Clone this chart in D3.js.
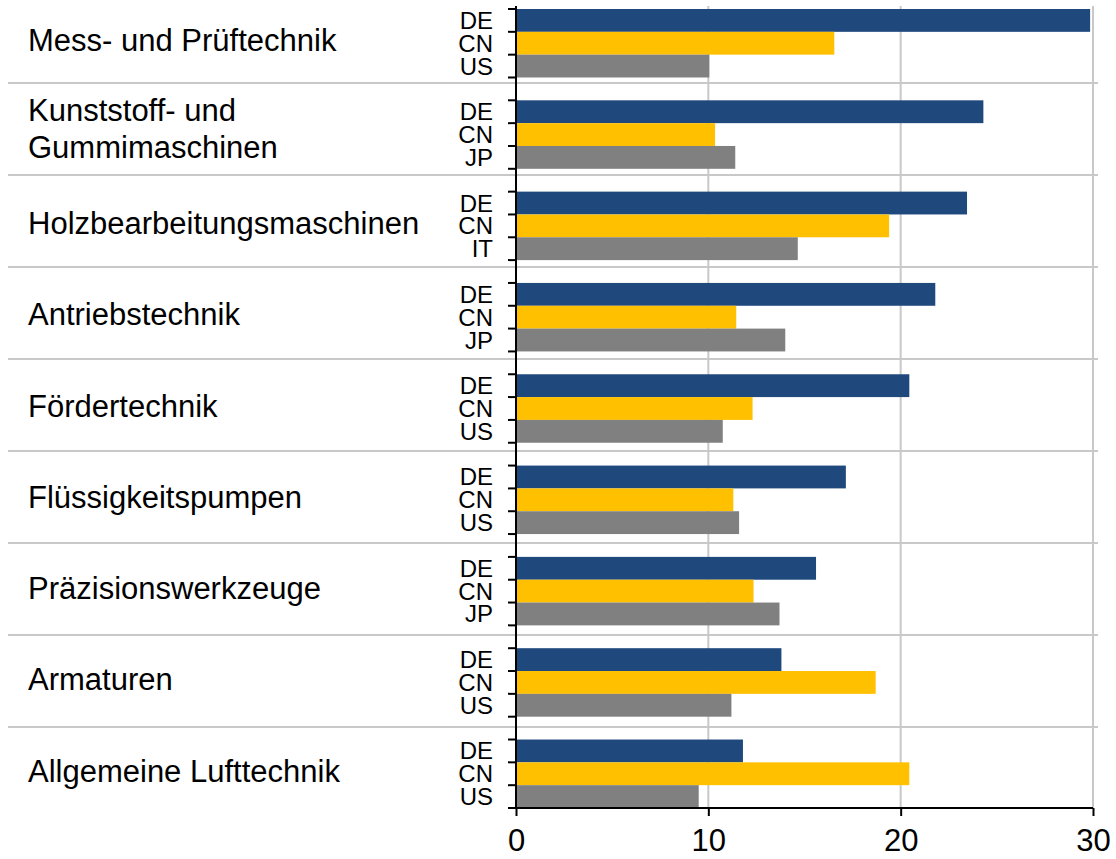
<!DOCTYPE html>
<html>
<head>
<meta charset="utf-8">
<script src="https://cdn.jsdelivr.net/npm/d3@7/dist/d3.min.js"></script>
<style>
  html, body { margin: 0; padding: 0; background: #fff; }
  svg { display: block; font-family: "Liberation Sans", Arial, sans-serif; }
</style>
</head>
<body>
<svg id="chart" width="1116" height="859"></svg>
<script>
// ---- data ----
const groupLabels = [
  ["Mess- und Prüftechnik"],
  ["Kunststoff- und", "Gummimaschinen"],
  ["Holzbearbeitungsmaschinen"],
  ["Antriebstechnik"],
  ["Fördertechnik"],
  ["Flüssigkeitspumpen"],
  ["Präzisionswerkzeuge"],
  ["Armaturen"],
  ["Allgemeine Lufttechnik"]
];
const thirdCountry = ["US", "JP", "IT", "JP", "US", "US", "JP", "US", "US"];
const deValues    = [29.85, 24.3, 23.45, 21.8, 20.45, 17.15, 15.6, 13.8, 11.8];
const cnValues    = [16.55, 10.35, 19.4, 11.45, 12.3, 11.3, 12.35, 18.7, 20.45];
const thirdValues = [10.05, 11.4, 14.65, 14.0, 10.75, 11.6, 13.7, 11.2, 9.5];
const xTicks = [0, 10, 20, 30];

const colors = { DE: "#1F497D", CN: "#FFC000", third: "#808080" };

// ---- build rows ----
const rows = [];
groupLabels.forEach((g, i) => {
  rows.push({ group: i, idx: 0, label: "DE", value: deValues[i], color: colors.DE });
  rows.push({ group: i, idx: 1, label: "CN", value: cnValues[i], color: colors.CN });
  rows.push({ group: i, idx: 2, label: thirdCountry[i], value: thirdValues[i], color: colors.third });
});
const slotOf = r => r.group * 4 + r.idx;
const nSlots = groupLabels.length * 4 - 1;

const svg = d3.select("#chart");
const x = d3.scaleLinear().domain([0, 30]).range([516, 1093]);
const y = d3.scaleBand().domain(d3.range(nSlots)).range([9, 808]).paddingInner(0).paddingOuter(0);
const plotTop = 6, plotBottom = 808;
const grid = "#C8C8C8";

// vertical gridlines
svg.append("g").selectAll("line")
  .data(xTicks.filter(t => t > 0))
  .join("line")
  .attr("x1", d => x(d)).attr("x2", d => x(d))
  .attr("y1", plotTop).attr("y2", plotBottom)
  .attr("stroke", grid).attr("stroke-width", 2);

// group separators
const seps = d3.range(1, groupLabels.length);
const sepY = g => y(g * 4 - 1) + y.bandwidth() / 2 - 6.6 + 0.69 * g;
svg.append("g").selectAll("line")
  .data(seps)
  .join("line")
  .attr("x1", 8).attr("x2", 1098)
  .attr("y1", sepY)
  .attr("y2", sepY)
  .attr("stroke", grid).attr("stroke-width", 2);

// bars
svg.append("g").selectAll("rect")
  .data(rows)
  .join("rect")
  .attr("x", x(0))
  .attr("y", d => y(slotOf(d)))
  .attr("width", d => x(d.value) - x(0))
  .attr("height", y.bandwidth())
  .attr("fill", d => d.color);

// category ticks (bar boundaries)
const tickYs = [];
groupLabels.forEach((g, i) => {
  for (let k = 0; k < 3; k++) tickYs.push(y(i * 4 + k));
  tickYs.push(y(i * 4 + 2) + y.bandwidth());
});
svg.append("g").selectAll("line")
  .data(tickYs)
  .join("line")
  .attr("x1", x(0) - 8).attr("x2", x(0))
  .attr("y1", d => d).attr("y2", d => d)
  .attr("stroke", "#000").attr("stroke-width", 2);

// y axis line
svg.append("line")
  .attr("x1", x(0)).attr("x2", x(0))
  .attr("y1", plotTop).attr("y2", plotBottom + 1)
  .attr("stroke", "#000").attr("stroke-width", 2);

// x axis
const xAxis = d3.axisBottom(x).tickValues(xTicks).tickSize(8).tickPadding(10).tickFormat(d3.format("d"));
const gx = svg.append("g").attr("transform", `translate(0,${plotBottom})`).call(xAxis);
gx.select(".domain").attr("stroke", "#000").attr("stroke-width", 2)
  .attr("d", `M${x(0) - 8},0H${x(30)}`);
gx.selectAll(".tick line").attr("stroke", "#000").attr("stroke-width", 2);
gx.selectAll(".tick text")
  .attr("fill", "#000")
  .attr("font-size", 31)
  .attr("font-family", "Liberation Sans, Arial, sans-serif")
  .attr("dy", null)
  .attr("y", 43);

// country labels
svg.append("g").selectAll("text")
  .data(rows)
  .join("text")
  .attr("x", 493)
  .attr("y", d => y(slotOf(d)) + y.bandwidth() / 2 + 8.5)
  .attr("text-anchor", "end")
  .attr("font-size", 24)
  .attr("fill", "#000")
  .text(d => d.label);

// group labels
const gl = svg.append("g").selectAll("text")
  .data(groupLabels)
  .join("text")
  .attr("x", 28)
  .attr("font-size", 31)
  .attr("fill", "#000")
  .attr("y", (d, i) => {
    const c = (y(i * 4) + y(i * 4 + 2) + y.bandwidth()) / 2;
    return c + 8 - (d.length - 1) * 22;
  });
gl.each(function(d) {
  const t = d3.select(this);
  d.forEach((line, j) => {
    t.append("tspan").attr("x", 28).attr("dy", j === 0 ? 0 : 37).text(line);
  });
});
</script>
</body>
</html>
